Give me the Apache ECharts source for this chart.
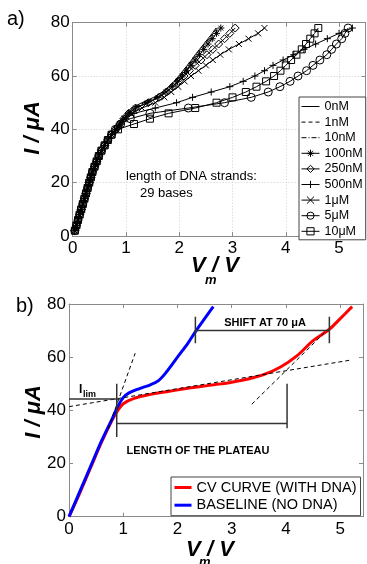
<!DOCTYPE html>
<html>
<head>
<meta charset="utf-8">
<script src="https://cdn.jsdelivr.net/npm/echarts@6/dist/echarts.min.js"></script>
<style>
html, body { margin: 0; padding: 0; background: #fff; }
#chart { width: 367px; height: 564px; }
</style>
</head>
<body>
<div id="chart"></div>
<script>
// ---- panel a: current steps (uA) and measured membrane voltages (V) ----
const currentSteps = [2, 4, 6, 8, 10, 12, 14, 16, 18, 20, 22, 24, 26, 28, 30, 32, 34, 36, 38,
  40, 42, 44, 46, 48, 50, 52, 54, 56, 58, 60, 62, 64, 66, 68, 70, 72, 74, 76, 78];
// common ohmic rise, I = 2..38
const vRise = [0.04, 0.07, 0.10, 0.13, 0.16, 0.19, 0.22, 0.25, 0.28, 0.31, 0.34, 0.37, 0.41, 0.45, 0.49, 0.54, 0.60, 0.66, 0.73];
// I = 40..78 per concentration
const v0nM = [0.80, 0.86, 0.93, 1.00, 1.10, 1.30, 1.52, 1.68, 1.80, 1.90, 1.99, 2.07, 2.15, 2.23, 2.30, 2.38, 2.46, 2.54, 2.62, 2.69];
const v1nM = [0.80, 0.87, 0.94, 1.02, 1.13, 1.34, 1.55, 1.70, 1.82, 1.92, 2.01, 2.09, 2.17, 2.25, 2.32, 2.40, 2.48, 2.56, 2.64, 2.71];
const v10nM = [0.81, 0.88, 0.95, 1.03, 1.15, 1.37, 1.57, 1.72, 1.84, 1.94, 2.03, 2.11, 2.19, 2.27, 2.35, 2.43, 2.51, 2.59, 2.67, 2.74];
const v100nM = [0.81, 0.88, 0.96, 1.05, 1.18, 1.40, 1.60, 1.75, 1.87, 1.97, 2.06, 2.14, 2.22, 2.30, 2.38, 2.46, 2.54, 2.62, 2.70, 2.78];
const v250nM = [0.81, 0.88, 0.96, 1.05, 1.18, 1.42, 1.62, 1.76, 1.88, 1.99, 2.09, 2.19, 2.30, 2.41, 2.52, 2.63, 2.74, 2.85, 2.95, 3.05];
const v500nM = [0.83, 0.90, 1.00, 1.15, 1.55, 1.95, 2.25, 2.60, 2.95, 3.20, 3.42, 3.60, 3.76, 3.95, 4.15, 4.34, 4.56, 4.78, 5.00, 5.25];
const v1uM = [0.82, 0.90, 0.98, 1.10, 1.30, 1.55, 1.72, 1.85, 1.98, 2.10, 2.22, 2.36, 2.50, 2.63, 2.77, 2.93, 3.12, 3.30, 3.48, 3.60];
const v5uM = [0.80, 0.90, 1.08, 1.45, 2.17, 2.85, 3.35, 3.67, 3.89, 4.08, 4.23, 4.39, 4.51, 4.64, 4.77, 4.86, 4.95, 5.05, 5.11, 5.17];
const v10uM = [0.85, 1.15, 1.45, 1.80, 2.30, 2.70, 3.00, 3.25, 3.45, 3.63, 3.78, 3.90, 4.00, 4.10, 4.20, 4.30, 4.38, 4.46, 4.54, 4.61];

// ---- panel b ----
const redV = [0, 0.2, 0.4, 0.6, 0.8, 0.9, 1.0, 1.2, 1.5, 1.8, 2.1, 2.4, 2.7, 3.0, 3.3, 3.6, 3.9, 4.2, 4.5, 4.8, 5.0, 5.22];
const redI = [0, 9, 18.5, 28, 36.5, 40, 42.5, 44.5, 46, 47, 48, 48.9, 49.7, 50.6, 51.8, 53.5, 56.3, 60.5, 66.2, 70.5, 74.5, 79];
const blueV = [0, 0.2, 0.4, 0.6, 0.8, 0.9, 1.0, 1.1, 1.3, 1.5, 1.65, 1.8, 2.0, 2.2, 2.35, 2.5, 2.66];
const blueI = [0, 9.5, 19, 28.5, 37, 41.5, 44.8, 46.5, 48.2, 49.6, 51.2, 54.5, 60, 65.5, 70.2, 74.5, 79];
const tangentSteep = [[0.72, 33], [1.22, 61.5]];
const tangentPlateau = [[0, 41.4], [5.22, 59]];
const tangentUpper = [[3.37, 42.3], [4.75, 70]];
const iLimLine = [[0, 44.3], [0.94, 44.3]];
const plateauSpan = [[0.88, 35.1], [4.02, 35.1]];
const plateauStartTick = [[0.88, 30], [0.88, 50]];
const plateauEndTick = [[4.02, 33.3], [4.02, 50]];
const shiftSpan = [[2.33, 70], [4.8, 70]];
const shiftStartTick = [[2.33, 65.2], [2.33, 75.2]];
const shiftEndTick = [[4.8, 65.2], [4.8, 75.2]];

const FONT = "'Liberation Sans', Arial, sans-serif";
const AXIS_GRAY = '#8a8a8a';
const CLEAR = 'rgba(0,0,0,0)';

const pairs = (volts) => volts.map((v, i) => [v, currentSteps[i]]);
const zip = (xs, ys) => xs.map((x, i) => [x, ys[i]]);

const SYM = {
  asterisk: 'path://M0,5L10,5M5,0L5,10M1.5,1.5L8.5,8.5M1.5,8.5L8.5,1.5',
  plus: 'path://M0,5L10,5M5,0L5,10',
  cross: 'path://M0,0L10,10M0,10L10,0',
  diamond: 'path://M5,0L10,5L5,10L0,5Z',
};

const concentrations = [
  { name: '0nM', v: v0nM, type: 'solid', symbol: null, size: 0 },
  { name: '1nM', v: v1nM, type: [4, 3], symbol: null, size: 0 },
  { name: '10nM', v: v10nM, type: [5, 2, 1, 2], symbol: null, size: 0 },
  { name: '100nM', v: v100nM, type: 'solid', symbol: SYM.asterisk, size: 7 },
  { name: '250nM', v: v250nM, type: 'solid', symbol: SYM.diamond, size: 8 },
  { name: '500nM', v: v500nM, type: 'solid', symbol: SYM.plus, size: 7 },
  { name: '1\u03bcM', v: v1uM, type: 'solid', symbol: SYM.cross, size: 6 },
  { name: '5\u03bcM', v: v5uM, type: 'solid', symbol: 'circle', size: 8 },
  { name: '10\u03bcM', v: v10uM, type: 'solid', symbol: 'rect', size: 7 },
];

function xAxis(grid, max, position, labels, split) {
  return {
    type: 'value', gridIndex: grid, position, min: 0, max, interval: 1,
    axisLine: { show: true, onZero: false, lineStyle: { color: AXIS_GRAY, width: 1 } },
    axisTick: { show: true, inside: true, length: 4, lineStyle: { color: AXIS_GRAY } },
    axisLabel: {
      show: labels, color: '#000', fontSize: 17, fontFamily: FONT, margin: 4,
      formatter: (v) => (Number.isInteger(v) ? String(v) : ''),
    },
    splitLine: { show: split, lineStyle: { color: '#cfcfcf', type: [1, 2] } },
  };
}
function yAxis(grid, position, labels, split) {
  return {
    type: 'value', gridIndex: grid, position, min: 0, max: 80, interval: 20,
    axisLine: { show: true, onZero: false, lineStyle: { color: AXIS_GRAY, width: 1 } },
    axisTick: { show: true, inside: true, length: 4, lineStyle: { color: AXIS_GRAY } },
    axisLabel: { show: labels, color: '#000', fontSize: 17, fontFamily: FONT, margin: 3 },
    splitLine: { show: split, lineStyle: { color: '#cfcfcf', type: [1, 2] } },
  };
}

const seriesA = concentrations.map((c) => ({
  name: c.name, type: 'line', xAxisIndex: 0, yAxisIndex: 0,
  data: pairs(vRise.concat(c.v)),
  symbol: c.symbol || 'circle', symbolSize: c.size, showSymbol: !!c.symbol,
  itemStyle: { color: CLEAR, borderColor: '#000', borderWidth: c.symbol ? 1 : 0 },
  lineStyle: { color: '#000', width: 1, type: c.type },
  emphasis: { disabled: true },
}));

function plainLine(data, color, width, type) {
  return {
    type: 'line', xAxisIndex: 2, yAxisIndex: 2, data, symbol: 'none',
    lineStyle: { color, width, type }, emphasis: { disabled: true }, z: 4,
  };
}

const seriesB = [
  {
    name: 'CV CURVE (WITH DNA)', type: 'line', xAxisIndex: 2, yAxisIndex: 2,
    data: zip(redV, redI), symbol: 'none', smooth: 0.35,
    itemStyle: { color: '#ff0000' }, lineStyle: { color: '#ff0000', width: 3 },
  },
  {
    name: 'BASELINE (NO DNA)', type: 'line', xAxisIndex: 2, yAxisIndex: 2,
    data: zip(blueV, blueI), symbol: 'none', smooth: 0.35,
    itemStyle: { color: '#0000ff' }, lineStyle: { color: '#0000ff', width: 3 },
  },
  plainLine(tangentSteep, '#000', 1, [4, 3]),
  plainLine(tangentPlateau, '#000', 1, [4, 3]),
  plainLine(tangentUpper, '#000', 1, [4, 3]),
  plainLine(iLimLine, '#333', 1.5, 'solid'),
  plainLine(plateauSpan, '#333', 1.5, 'solid'),
  plainLine(plateauStartTick, '#333', 1.5, 'solid'),
  plainLine(plateauEndTick, '#333', 1.5, 'solid'),
  plainLine(shiftSpan, '#333', 1.5, 'solid'),
  plainLine(shiftStartTick, '#333', 1.5, 'solid'),
  plainLine(shiftEndTick, '#333', 1.5, 'solid'),
];

function txt(text, x, y, size, weight, style, align, extra) {
  return Object.assign({
    type: 'text', x, y, z: 10,
    style: {
      text, fill: '#000',
      font: `${style} ${weight} ${size}px ${FONT}`,
      align, verticalAlign: 'middle', textAlign: align, textVerticalAlign: 'middle',
    },
  }, extra || {});
}

const legendA = concentrations.map((c) => ({
  name: c.name,
  itemStyle: { color: CLEAR, borderColor: '#000', borderWidth: c.symbol ? 1 : 0 },
  lineStyle: { color: '#000', width: 1, type: c.type },
}));
const legendB = [
  { name: 'CV CURVE (WITH DNA)', itemStyle: { color: CLEAR, borderWidth: 0 }, lineStyle: { color: '#ff0000', width: 3 } },
  { name: 'BASELINE (NO DNA)', itemStyle: { color: CLEAR, borderWidth: 0 }, lineStyle: { color: '#0000ff', width: 3 } },
];

const chart = echarts.init(document.getElementById('chart'));
chart.setOption({
  animation: false,
  backgroundColor: '#fff',
  grid: [
    { left: 72.7, top: 22.7, width: 293, height: 213.3, outerBoundsMode: 'none', containLabel: false },
    { left: 69, top: 304, width: 294, height: 212.7, outerBoundsMode: 'none', containLabel: false },
  ],
  xAxis: [
    xAxis(0, 5.5, 'bottom', true, true),
    xAxis(0, 5.5, 'top', false, false),
    xAxis(1, 5.42, 'bottom', true, false),
    xAxis(1, 5.42, 'top', false, false),
  ],
  yAxis: [
    yAxis(0, 'left', true, true),
    yAxis(0, 'right', false, false),
    yAxis(1, 'left', true, false),
    yAxis(1, 'right', false, false),
  ],
  legend: [
    {
      data: legendA, orient: 'vertical', left: 299, top: 97,
      itemWidth: 18, itemHeight: 9, itemGap: 2.6, padding: [3, 3, 2, 2],
      borderColor: '#444', borderWidth: 1, backgroundColor: '#fff', selectedMode: false,
      textStyle: { fontSize: 12.5, fontFamily: FONT, color: '#000', lineHeight: 12 },
    },
    {
      data: legendB, orient: 'vertical', left: 171, top: 477,
      itemWidth: 17, itemHeight: 8, itemGap: 2.7, padding: [3, 4, 3, 2],
      borderColor: '#444', borderWidth: 1, backgroundColor: '#fff', selectedMode: false,
      textStyle: { fontSize: 14.5, fontFamily: FONT, color: '#000', lineHeight: 14 },
    },
  ],
  graphic: [
    txt('a)', 7, 19, 20, 'normal', 'normal', 'left'),
    txt('b)', 16, 306, 20, 'normal', 'normal', 'left'),
    txt('I / \u03bcA', 33, 128, 22, 'bold', 'italic', 'center', { rotation: Math.PI / 2 }),
    txt('I / \u03bcA', 34, 412, 22, 'bold', 'italic', 'center', { rotation: Math.PI / 2 }),
    txt('V', 191, 266, 22, 'bold', 'italic', 'left'),
    txt('m', 205, 280, 13, 'bold', 'italic', 'left'),
    txt('/ V', 212, 266, 22, 'bold', 'italic', 'left'),
    txt('V', 186, 550, 22, 'bold', 'italic', 'left'),
    txt('m', 199, 562, 13, 'bold', 'italic', 'left'),
    txt('/ V', 207, 550, 22, 'bold', 'italic', 'left'),
    txt('length of DNA strands:', 126, 176, 13, 'normal', 'normal', 'left'),
    txt('29 bases', 140, 193, 13, 'normal', 'normal', 'left'),
    txt('SHIFT AT 70 \u03bcA', 265, 323, 11, 'bold', 'normal', 'center'),
    txt('LENGTH OF THE PLATEAU', 198, 451, 11, 'bold', 'normal', 'center'),
    txt('I', 79, 390, 12, 'bold', 'normal', 'left'),
    txt('lim', 83, 395, 9, 'bold', 'normal', 'left'),
  ],
  series: seriesA.concat(seriesB),
});
</script>
</body>
</html>
